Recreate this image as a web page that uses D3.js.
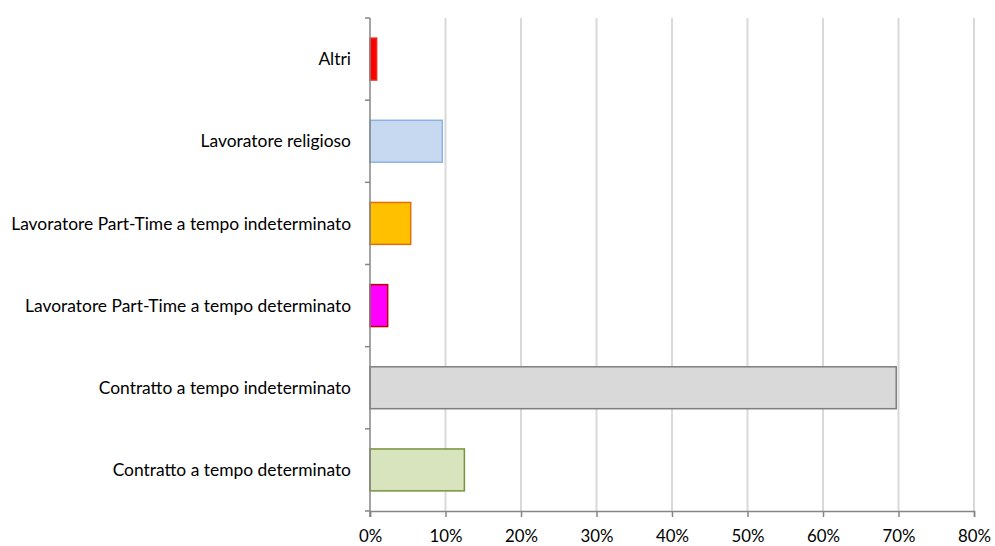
<!DOCTYPE html>
<html><head><meta charset="utf-8">
<script src="https://cdn.jsdelivr.net/npm/d3@7"></script>
<style>body{margin:0;background:#fff}svg{display:block}</style>
</head><body>
<svg id="c" width="995" height="546"></svg>
<script>
const categories = ["Altri","Lavoratore religioso","Lavoratore Part-Time a tempo indeterminato","Lavoratore Part-Time a tempo determinato","Contratto a tempo indeterminato","Contratto a tempo determinato"];
const values = [0.88, 9.58, 5.39, 2.34, 69.7, 12.5];
const fills = ["#FF0000","#C6D9F1","#FFC000","#FF00FF","#D9D9D9","#D7E4BD"];
const strokes = ["#E0301E","#8DB3E2","#E46C0A","#C00000","#7F7F7F","#77933C"];
const xTicks = [0,10,20,30,40,50,60,70,80];

(function(){
const svg = d3.select("#c");
const pLeft = 370, pRight = 974, pTop = 18, pBottom = 511;
const x = d3.scaleLinear().domain([0,80]).range([pLeft,pRight]);
const y = d3.scaleBand().domain(categories).range([pTop,pBottom]).paddingInner(0.49).paddingOuter(0.245);
const font = "Lato, sans-serif";

svg.append("g").selectAll("line").data(xTicks.slice(1)).join("line")
  .attr("x1",d=>x(d)).attr("x2",d=>x(d)).attr("y1",pTop).attr("y2",pBottom)
  .attr("stroke","#D9D9D9").attr("stroke-width",2);

svg.append("g").selectAll("rect").data(categories).join("rect")
  .attr("x",x(0)).attr("y",d=>y(d))
  .attr("width",(d,i)=>x(values[i])-x(0)).attr("height",y.bandwidth())
  .attr("fill",(d,i)=>fills[i]).attr("stroke",(d,i)=>strokes[i]).attr("stroke-width",1.5);

const yAxisG = svg.append("g");
yAxisG.append("line").attr("x1",pLeft).attr("x2",pLeft).attr("y1",pTop).attr("y2",pBottom+6).attr("stroke","#868686").attr("stroke-width",1.5);
const bandStep = (pBottom-pTop)/categories.length;
yAxisG.selectAll("line.t").data(d3.range(categories.length+1)).join("line").attr("class","t")
  .attr("x1",pLeft-5).attr("x2",pLeft).attr("y1",i=>pTop+i*bandStep).attr("y2",i=>pTop+i*bandStep)
  .attr("stroke","#868686").attr("stroke-width",1.5);
const labels = yAxisG.selectAll("text").data(categories).join("text")
  .attr("x",351).attr("y",d=>y(d)+y.bandwidth()/2).attr("dy","0.35em")
  .attr("text-anchor","end").attr("font-family",font).attr("font-size",14).attr("fill","#000").text(d=>d);
let maxW = 0; labels.each(function(){ maxW = Math.max(maxW, this.getComputedTextLength()); });
labels.attr("font-size", 14*340/maxW);

const xAxis = d3.axisBottom(x).tickValues(xTicks).tickSize(6).tickFormat(d=>d+"%");
const xg = svg.append("g").attr("transform",`translate(0,${pBottom})`).call(xAxis);
xg.select(".domain").attr("stroke","#868686").attr("stroke-width",1.5);
xg.selectAll(".tick line").attr("stroke","#868686").attr("stroke-width",1.5);
const tt = xg.selectAll(".tick text").attr("font-family",font).attr("font-size",16).attr("fill","#000");
let w10 = 0; tt.filter(d=>d===10).each(function(){ w10 = this.getComputedTextLength(); });
const fs = 16*33/w10;
tt.attr("font-size",fs).attr("dy",null).attr("y",31);
})();
</script>
</body></html>
